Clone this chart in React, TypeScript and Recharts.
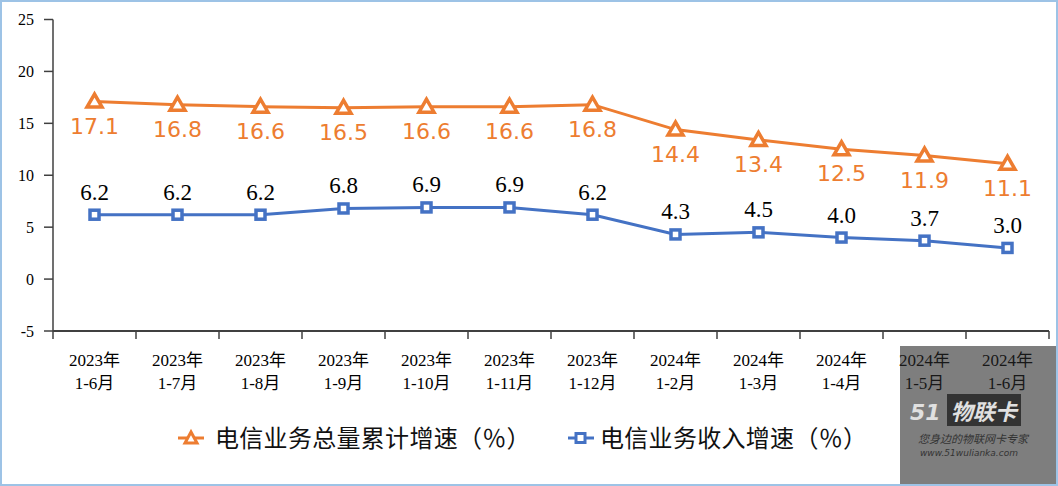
import React from 'react';
import { LineChart, Line, XAxis, YAxis, LabelList } from 'recharts';

const periods = ['1-6月', '1-7月', '1-8月', '1-9月', '1-10月', '1-11月', '1-12月', '1-2月', '1-3月', '1-4月', '1-5月', '1-6月'];
const years = ['2023年', '2023年', '2023年', '2023年', '2023年', '2023年', '2023年', '2024年', '2024年', '2024年', '2024年', '2024年'];
const totalVolumeGrowth = [17.1, 16.8, 16.6, 16.5, 16.6, 16.6, 16.8, 14.4, 13.4, 12.5, 11.9, 11.1];
const revenueGrowth = [6.2, 6.2, 6.2, 6.8, 6.9, 6.9, 6.2, 4.3, 4.5, 4.0, 3.7, 3.0];
const yTicks = [-5, 0, 5, 10, 15, 20, 25];

const ORANGE = '#ED7D31';
const BLUE = '#4472C4';
const PLOT_W = 996;
const BAND = PLOT_W / periods.length;

const data = periods.map((p, i) => ({
  key: `${years[i]}|${p}`,
  total: totalVolumeGrowth[i],
  revenue: revenueGrowth[i],
}));

const TriangleDot = (props: any) => {
  const { cx, cy } = props;
  if (cx == null || cy == null) return null;
  return (
    <polygon
      points={`${cx},${cy - 7.5} ${cx - 7.5},${cy + 5.5} ${cx + 7.5},${cy + 5.5}`}
      fill="#fff"
      stroke={ORANGE}
      strokeWidth={3.5}
      strokeLinejoin="miter"
    />
  );
};

const SquareDot = (props: any) => {
  const { cx, cy } = props;
  if (cx == null || cy == null) return null;
  return <rect x={cx - 4.5} y={cy - 4.5} width={9} height={9} fill="#fff" stroke={BLUE} strokeWidth={3.5} />;
};

const XTick = (props: any) => {
  const { x, y, payload, index } = props;
  const [yr, per] = String(payload.value).split('|');
  const last = index === periods.length - 1;
  return (
    <g>
      <line x1={x - BAND / 2} x2={x - BAND / 2} y1={y} y2={y + 8} stroke="#404040" strokeWidth={1.5} />
      {last && <line x1={x + BAND / 2} x2={x + BAND / 2} y1={y} y2={y + 8} stroke="#404040" strokeWidth={1.5} />}
      <text x={x} y={y + 35} textAnchor="middle" fontSize={17} fill="#000" fontFamily='"Liberation Serif", "Noto Sans CJK SC"'>
        {yr}
      </text>
      <text x={x} y={y + 58} textAnchor="middle" fontSize={17} fill="#000" fontFamily='"Liberation Serif", "Noto Sans CJK SC"'>
        {per}
      </text>
    </g>
  );
};

const orangeLabel = (props: any) => {
  const { x, y, value } = props;
  return (
    <text x={x} y={y + 32} textAnchor="middle" fontSize={22} fill={ORANGE} fontFamily='"DejaVu Sans", sans-serif'>
      {Number(value).toFixed(1)}
    </text>
  );
};

const blueLabel = (props: any) => {
  const { x, y, value } = props;
  return (
    <text x={x} y={y - 15} textAnchor="middle" fontSize={23} fill="#000" fontFamily='"Liberation Serif", serif'>
      {Number(value).toFixed(1)}
    </text>
  );
};

export default function App() {
  return (
    <div
      style={{
        position: 'absolute',
        left: 0,
        top: 0,
        width: 1058,
        height: 486,
        boxSizing: 'border-box',
        border: '2px solid #9DC3E6',
        background: '#fff',
        overflow: 'hidden',
      }}
    >
      <div style={{ position: 'absolute', left: -2, top: -2 }}>
        <LineChart width={1058} height={486} data={data} margin={{ top: 19.5, right: 9, left: 8, bottom: 95 }}>
          <XAxis
            dataKey="key"
            scale="band"
            height={60}
            axisLine={{ stroke: '#404040', strokeWidth: 2 }}
            tickLine={false}
            tickSize={0}
            tickMargin={0}
            interval={0}
            tick={<XTick />}
          />
          <YAxis
            domain={[-5, 25]}
            ticks={yTicks}
            width={45}
            axisLine={{ stroke: '#404040', strokeWidth: 1.5 }}
            tickLine={{ stroke: '#404040', strokeWidth: 1.5 }}
            tickSize={9}
            tickMargin={10}
            tick={{ fill: '#000', fontSize: 16, fontFamily: '"Liberation Serif", serif' }}
          />
          <Line
            dataKey="total"
            stroke={ORANGE}
            strokeWidth={3}
            dot={<TriangleDot />}
            activeDot={false}
            isAnimationActive={false}
          >
            <LabelList dataKey="total" content={orangeLabel} />
          </Line>
          <Line
            dataKey="revenue"
            stroke={BLUE}
            strokeWidth={3}
            dot={<SquareDot />}
            activeDot={false}
            isAnimationActive={false}
          >
            <LabelList dataKey="revenue" content={blueLabel} />
          </Line>
        </LineChart>
      </div>

      {/* legend */}
      <div
        style={{
          position: 'absolute',
          left: 0,
          top: 420,
          width: '100%',
          fontFamily: '"Noto Sans CJK SC", sans-serif',
          fontSize: 24,
          letterSpacing: 0.3,
          color: '#111',
          lineHeight: '30px',
        }}
      >
        <svg width={30} height={20} style={{ position: 'absolute', left: 174, top: 6 }}>
          <line x1={2} x2={28} y1={10} y2={10} stroke={ORANGE} strokeWidth={3} />
          <polygon points="15,4 9,15 21,15" fill="#fff" stroke={ORANGE} strokeWidth={3} />
        </svg>
        <span style={{ position: 'absolute', left: 213, top: 0, whiteSpace: 'nowrap' }}>电信业务总量累计增速（％）</span>
        <svg width={30} height={20} style={{ position: 'absolute', left: 564, top: 6 }}>
          <line x1={2} x2={28} y1={10} y2={10} stroke={BLUE} strokeWidth={3} />
          <rect x={10} y={5.5} width={9} height={9} fill="#fff" stroke={BLUE} strokeWidth={3} />
        </svg>
        <span style={{ position: 'absolute', left: 598, top: 0, whiteSpace: 'nowrap' }}>电信业务收入增速（％）</span>
      </div>

      {/* watermark */}
      <div
        style={{
          position: 'absolute',
          left: 898,
          top: 344,
          width: 156,
          height: 138,
          background: 'rgba(40,40,40,0.6)',
          fontFamily: '"DejaVu Sans", sans-serif',
        }}
      >
        <div style={{ position: 'absolute', left: 10, top: 48, fontSize: 22, fontWeight: 700, fontStyle: 'italic', color: '#e0e0e0', whiteSpace: 'nowrap' }}>
          51<span style={{ fontFamily: '"Noto Sans CJK SC"', marginLeft: 6, background: '#333', padding: '0 4px' }}>物联卡</span>
        </div>
        <div style={{ position: 'absolute', left: 18, top: 84, fontSize: 11, fontStyle: 'italic', color: '#333', fontFamily: '"Noto Sans CJK SC"', whiteSpace: 'nowrap' }}>
          您身边的物联网卡专家
        </div>
        <div style={{ position: 'absolute', left: 20, top: 102, fontSize: 9, fontStyle: 'italic', color: '#333', whiteSpace: 'nowrap' }}>
          www.51wulianka.com
        </div>
      </div>
    </div>
  );
}
